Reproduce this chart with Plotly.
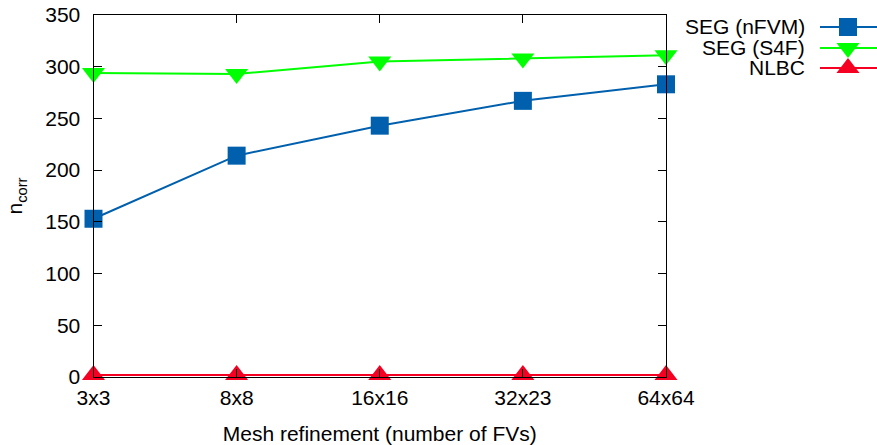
import plotly.graph_objects as go

# Mesh refinement levels and number of corrections per method
meshes = ["3x3", "8x8", "16x16", "32x23", "64x64"]
seg_nfvm = [153, 214, 243, 267, 283]
seg_s4f = [294, 293, 305, 308, 311]
nlbc = [2, 2, 2, 2, 2]

series_names = ["SEG (nFVM)", "SEG (S4F)", "NLBC"]
series_values = [seg_nfvm, seg_s4f, nlbc]
series_colors = ["#0060ad", "#00ff00", "#f50022"]
series_symbols = ["square", "triangle-down", "triangle-up"]
series_sizes = [18, 20, 20]

FONT = "Liberation Sans, Arial, Helvetica, sans-serif"
FS = 21
W, H = 877, 445
L, R, T, B = 93.5, 666, 15, 377

fig = go.Figure()
for name, vals, col, sym, sz in zip(series_names, series_values, series_colors,
                                    series_symbols, series_sizes):
    fig.add_trace(go.Scatter(
        x=list(range(len(meshes))), y=vals, name=name, mode="lines+markers",
        line=dict(color=col, width=2), opacity=1,
        marker=dict(symbol=sym, size=sz, color=col, opacity=1, line=dict(width=0)),
        cliponaxis=False, showlegend=False,
    ))

# gnuplot-style key: right-aligned labels followed by a line sample
key_rows = [27, 48, 68]
for name, col, sym, sz, row in zip(series_names, series_colors, series_symbols,
                                   series_sizes, key_rows):
    fig.add_trace(go.Scatter(
        x=[820, 848, 877], y=[row, row, row], mode="lines+markers",
        line=dict(color=col, width=2), opacity=1,
        marker=dict(symbol=sym, size=[0, sz, 0], color=col, opacity=1,
                    line=dict(width=0)),
        xaxis="x2", yaxis="y2", cliponaxis=False, showlegend=False,
        hoverinfo="skip",
    ))
    fig.add_annotation(
        x=807 / W, y=1 - row / H, xref="paper", yref="paper",
        text=name, showarrow=False, xanchor="right", yanchor="middle",
        font=dict(family=FONT, size=FS, color="black"),
    )

fig.update_layout(
    width=W, height=H,
    margin=dict(l=0, r=0, t=0, b=0, pad=0, autoexpand=False),
    paper_bgcolor="white", plot_bgcolor="rgba(0,0,0,0)",
    font=dict(family=FONT, size=FS, color="black"),
    xaxis=dict(
        domain=[L / W, R / W], range=[0, len(meshes) - 1], automargin=False,
        tickmode="array", tickvals=list(range(len(meshes))), ticktext=meshes,
        ticks="inside", ticklen=8, tickcolor="black", mirror="ticks",
        ticklabelstandoff=2,
        showline=True, linecolor="black", linewidth=1, showgrid=False,
        zeroline=False,
        title=dict(text="Mesh refinement (number of FVs)",
                   font=dict(family=FONT, size=FS), standoff=18),
    ),
    yaxis=dict(
        domain=[1 - B / H, 1 - T / H], range=[0, 350], dtick=50,
        automargin=False, ticklabelstandoff=8,
        ticks="inside", ticklen=8, tickcolor="black", mirror="ticks",
        showline=True, linecolor="black", linewidth=1, showgrid=False,
        zeroline=False,
        title=dict(text="n<sub>corr</sub>", font=dict(family=FONT, size=FS),
                   standoff=16),
    ),
    xaxis2=dict(domain=[0, 1], range=[0, W], visible=False, anchor="y2",
                automargin=False),
    yaxis2=dict(domain=[0, 1], range=[H, 0], visible=False, anchor="x2",
                automargin=False),
)

fig.write_html("out.html")
